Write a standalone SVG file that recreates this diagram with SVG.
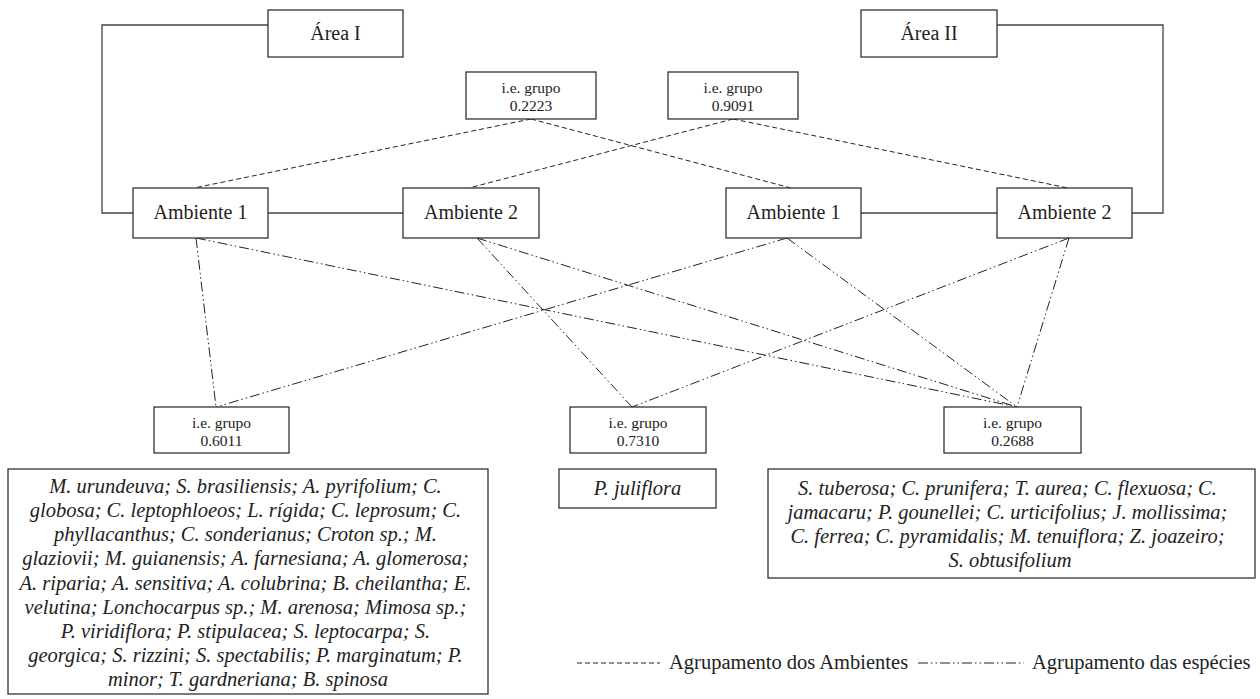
<svg xmlns="http://www.w3.org/2000/svg" width="1260" height="699" viewBox="0 0 1260 699">
<style>
.box{fill:#fff;stroke:#333;stroke-width:1.3}
.solid{fill:none;stroke:#444;stroke-width:1.3}
.amb{fill:none;stroke:#222;stroke-width:1;stroke-dasharray:5 3}
.esp{fill:none;stroke:#222;stroke-width:1;stroke-dasharray:10 3 1.5 3 1.5 3}
text{font-family:'Liberation Serif','Times New Roman',Times,serif;fill:#222}
.t20{font-size:20px;text-anchor:middle}
.t15{font-size:15.5px;text-anchor:middle}
.sp{font-style:italic;font-size:20.5px;text-anchor:middle}
.leg{font-size:20.5px}
</style>
<rect width="1260" height="699" fill="#fff"/>
<g id="connectors">
<path class="solid" d="M268,25 H102 V213 H133"/>
<path class="solid" d="M268,213 H403"/>
<path class="solid" d="M861,213 H997"/>
<path class="solid" d="M997,25 H1163 V213 H1132"/>
<line class="amb" x1="531" y1="119" x2="194" y2="188"/>
<line class="amb" x1="531" y1="119" x2="791" y2="188"/>
<line class="amb" x1="733" y1="119" x2="469" y2="188"/>
<line class="amb" x1="733" y1="119" x2="1068" y2="188"/>
<line class="esp" x1="196" y1="238" x2="216" y2="407"/>
<line class="esp" x1="196" y1="238" x2="1017" y2="407"/>
<line class="esp" x1="477" y1="238" x2="632" y2="407"/>
<line class="esp" x1="477" y1="238" x2="1017" y2="407"/>
<line class="esp" x1="787" y1="238" x2="216" y2="407"/>
<line class="esp" x1="787" y1="238" x2="1017" y2="407"/>
<line class="esp" x1="1069" y1="238" x2="632" y2="407"/>
<line class="esp" x1="1069" y1="238" x2="1017" y2="407"/>
</g>
<g id="area1"><rect class="box" x="268" y="10" width="135" height="47"/><text class="t20" x="335.5" y="40">Área I</text></g>
<g id="area2"><rect class="box" x="861" y="10" width="136" height="47"/><text class="t20" x="929" y="40">Área II</text></g>
<g id="grupo-top1"><rect class="box" x="466" y="72" width="130" height="47"/><text class="t15" x="531" y="93">i.e. grupo</text><text class="t15" x="531" y="111">0.2223</text></g>
<g id="grupo-top2"><rect class="box" x="668" y="72" width="130" height="47"/><text class="t15" x="733" y="93">i.e. grupo</text><text class="t15" x="733" y="111">0.9091</text></g>
<g id="amb1-a"><rect class="box" x="133" y="188" width="135" height="50"/><text class="t20" x="200.5" y="219">Ambiente 1</text></g>
<g id="amb2-a"><rect class="box" x="403" y="188" width="136" height="50"/><text class="t20" x="471" y="219">Ambiente 2</text></g>
<g id="amb1-b"><rect class="box" x="726" y="188" width="135" height="50"/><text class="t20" x="793.5" y="219">Ambiente 1</text></g>
<g id="amb2-b"><rect class="box" x="997" y="188" width="135" height="50"/><text class="t20" x="1064.5" y="219">Ambiente 2</text></g>
<g id="grupo-b1"><rect class="box" x="154" y="407" width="135" height="46"/><text class="t15" x="221.5" y="428">i.e. grupo</text><text class="t15" x="221.5" y="446">0.6011</text></g>
<g id="grupo-b2"><rect class="box" x="570" y="407" width="136" height="46"/><text class="t15" x="638" y="428">i.e. grupo</text><text class="t15" x="638" y="446">0.7310</text></g>
<g id="grupo-b3"><rect class="box" x="944" y="407" width="137" height="46"/><text class="t15" x="1012.5" y="428">i.e. grupo</text><text class="t15" x="1012.5" y="446">0.2688</text></g>
<g id="especies1"><rect class="box" x="8" y="469" width="480" height="225"/>
<text class="sp" x="248">
<tspan x="248" y="493">M. urundeuva; S. brasiliensis; A. pyrifolium; C.</tspan>
<tspan x="248" y="517">globosa; C. leptophloeos; L. rígida; C. leprosum; C.</tspan>
<tspan x="248" y="541">phyllacanthus; C. sonderianus; Croton sp.; M.</tspan>
<tspan x="248" y="565">glaziovii; M. guianensis; A. farnesiana; A. glomerosa;</tspan>
<tspan x="248" y="590">A. riparia; A. sensitiva; A. colubrina; B. cheilantha; E.</tspan>
<tspan x="248" y="614">velutina; Lonchocarpus sp.; M. arenosa; Mimosa sp.;</tspan>
<tspan x="248" y="638">P. viridiflora; P. stipulacea; S. leptocarpa; S.</tspan>
<tspan x="248" y="662">georgica; S. rizzini; S. spectabilis; P. marginatum; P.</tspan>
<tspan x="248" y="686">minor; T. gardneriana; B. spinosa</tspan>
</text></g>
<g id="especies2"><rect class="box" x="559" y="469" width="157" height="39"/><text class="sp" x="637.5" y="495">P. juliflora</text></g>
<g id="especies3"><rect class="box" x="768" y="469" width="487" height="109"/>
<text class="sp" x="1010">
<tspan x="1010" y="495">S. tuberosa; C. prunifera; T. aurea; C. flexuosa; C.</tspan>
<tspan x="1010" y="519">jamacaru; P. gounellei; C. urticifolius; J. mollissima;</tspan>
<tspan x="1010" y="543">C. ferrea; C. pyramidalis; M. tenuiflora; Z. joazeiro;</tspan>
<tspan x="1010" y="567">S. obtusifolium</tspan>
</text></g>
<g id="legenda">
<line class="amb" x1="577" y1="663" x2="660" y2="663"/>
<text class="leg" x="669" y="669">Agrupamento dos Ambientes</text>
<line class="esp" x1="918" y1="663" x2="1024" y2="663"/>
<text class="leg" x="1032" y="669">Agrupamento das espécies</text>
</g>
</svg>
